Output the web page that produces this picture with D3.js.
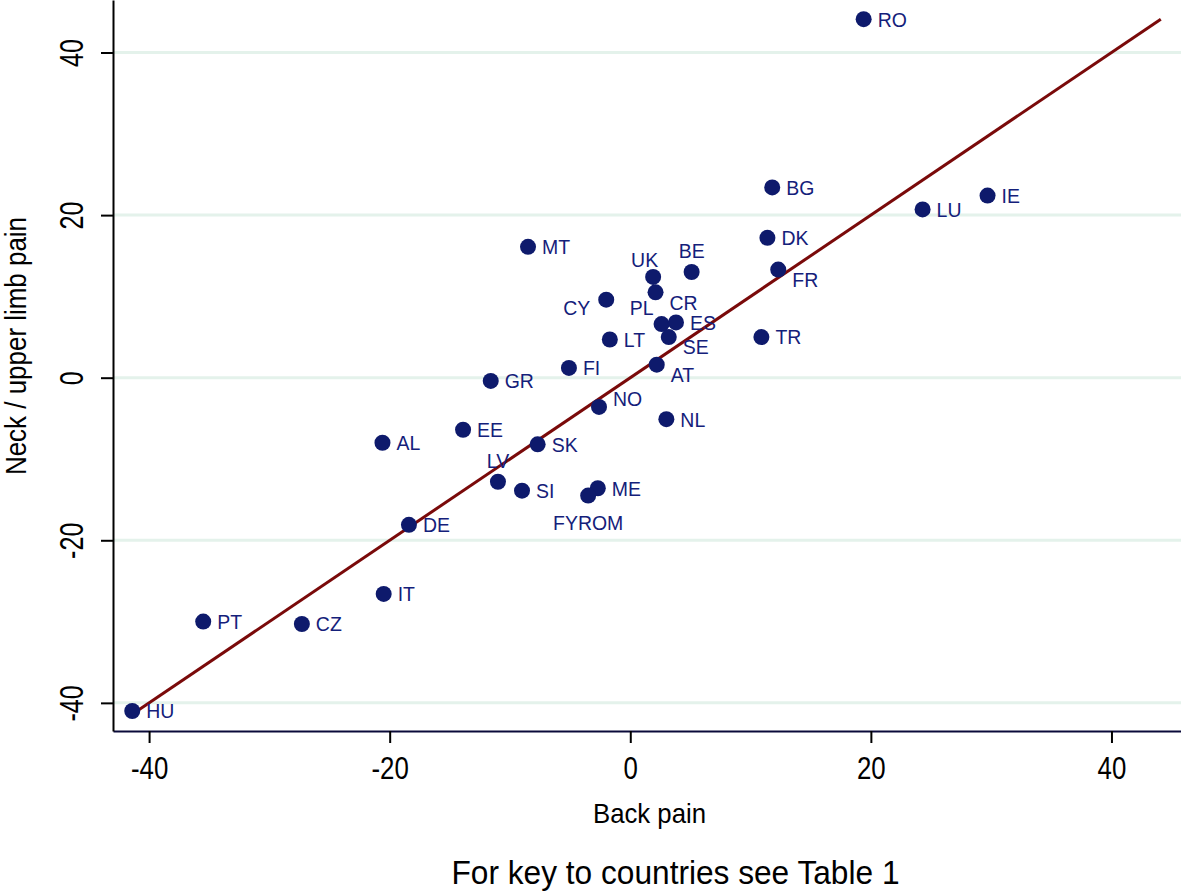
<!DOCTYPE html>
<html>
<head>
<meta charset="utf-8">
<script src="https://cdn.jsdelivr.net/npm/d3@7"></script>
<style>
  body { margin: 0; background: #fff; }
  svg { display: block; font-family: "Liberation Sans", Arial, sans-serif; }
</style>
</head>
<body>
<div id="chart"></div>
<script>
// country codes, back pain (x) and neck / upper limb pain (y)
const countries = ["RO","BG","IE","LU","DK","MT","FR","BE","UK","CR","CY","PL","ES","SE","LT","TR",
  "FI","AT","GR","NO","NL","EE","AL","SK","LV","SI","ME","FYROM","DE","IT","PT","CZ","HU"];
const backPain = [19.4, 11.8, 29.7, 24.3, 11.4, -8.5, 12.3, 5.1, 1.9, 2.1, -2.0, 2.6, 3.8, 3.2, -1.7, 10.9,
  -5.1, 2.2, -11.6, -2.6, 3.0, -13.9, -20.6, -7.7, -11.0, -9.0, -2.7, -3.5, -18.4, -20.5, -35.5, -27.3, -41.4];
const neckPain = [44.1, 23.4, 22.4, 20.7, 17.2, 16.1, 13.3, 13.0, 12.4, 10.5, 9.6, 6.6, 6.8, 5.0, 4.7, 5.0,
  1.2, 1.6, -0.4, -3.6, -5.1, -6.4, -8.0, -8.2, -12.8, -13.9, -13.6, -14.5, -18.1, -26.6, -30.0, -30.3, -41.0];
// marker label clock position for each country
const labelClock = [3,3,3,3,3,3,4,12,11,4,8,10,3,4,3,3,
  3,4,3,2,3,3,3,3,12,3,3,6,3,3,3,3,3];

const xTicks = [-40, -20, 0, 20, 40];
const yTicks = [-40, -20, 0, 20, 40];
// line of equality y = x
const eqLine = [-41.0, 44.1];

const width = 1181, height = 891;
const left = 113, bottom = 731;

const svg = d3.select("#chart").append("svg")
  .attr("width", width).attr("height", height);

const x = d3.scaleLinear().domain([-43.0, 45.78]).range([left, width]);
const y = d3.scaleLinear().domain([-43.46, 46.46]).range([bottom, 0]);

// plain hyphen minus like the original
const fmt = d => String(d);

// gridlines
svg.append("g").selectAll("line")
  .data(yTicks)
  .enter().append("line")
  .attr("x1", left).attr("x2", width)
  .attr("y1", d => y(d)).attr("y2", d => y(d))
  .attr("stroke", "#e4f2eb").attr("stroke-width", 3);

// x axis
const xAxis = svg.append("g")
  .attr("transform", "translate(0," + bottom + ")")
  .call(d3.axisBottom(x).tickValues(xTicks).tickSize(12).tickSizeOuter(0).tickPadding(14).tickFormat(fmt));
xAxis.select(".domain").attr("stroke", "#0a0a3a").attr("stroke-width", 2);
xAxis.selectAll(".tick line").attr("stroke", "#000").attr("stroke-width", 2);
xAxis.selectAll(".tick text")
  .attr("font-size", 31.5).attr("fill", "#000")
  .attr("font-family", "'Liberation Sans', Arial, sans-serif")
  .attr("transform", "scale(0.82,1)");

// y axis
const yAxis = svg.append("g")
  .attr("transform", "translate(" + left + ",0)")
  .call(d3.axisLeft(y).tickValues(yTicks).tickSize(12).tickSizeOuter(0).tickFormat(fmt));
yAxis.select(".domain").attr("stroke", "#000").attr("stroke-width", 2);
yAxis.selectAll(".tick line").attr("stroke", "#000").attr("stroke-width", 2);
yAxis.selectAll(".tick text")
  .attr("x", 0).attr("y", 0).attr("dy", 0)
  .attr("text-anchor", "middle")
  .attr("font-size", 33).attr("fill", "#000")
  .attr("font-family", "'Liberation Sans', Arial, sans-serif")
  .attr("transform", "translate(-30.5,0) rotate(-90) scale(0.76,1)");

// line of equality
svg.append("line")
  .attr("x1", x(eqLine[0])).attr("y1", y(eqLine[0]))
  .attr("x2", x(eqLine[1])).attr("y2", y(eqLine[1]))
  .attr("stroke", "#7a0a0a").attr("stroke-width", 3);

const points = countries.map((c, i) => ({ name: c, bx: backPain[i], ny: neckPain[i], clock: labelClock[i] }));

// label offsets by clock position
const offsets = {
  2: { dx: 14, dy: -8, anchor: "start" },
  3: { dx: 14, dy: 0, anchor: "start" },
  4: { dx: 14, dy: 10, anchor: "start" },
  6: { dx: 0, dy: 27, anchor: "middle" },
  8: { dx: -16, dy: 8, anchor: "end" },
  10: { dx: -8, dy: -16, anchor: "end" },
  11: { dx: 5, dy: -17, anchor: "end" },
  12: { dx: 0, dy: -21, anchor: "middle" }
};

svg.append("g").selectAll("circle")
  .data(points)
  .enter().append("circle")
  .attr("cx", d => x(d.bx)).attr("cy", d => y(d.ny))
  .attr("r", 8)
  .attr("fill", "#0e1a6c");

svg.append("g").selectAll("text")
  .data(points)
  .enter().append("text")
  .attr("transform", d => {
    const o = offsets[d.clock];
    return "translate(" + (x(d.bx) + o.dx) + "," + (y(d.ny) + o.dy) + ") scale(0.95,1)";
  })
  .attr("dy", "0.36em")
  .attr("text-anchor", d => offsets[d.clock].anchor)
  .attr("font-size", 20.5)
  .attr("fill", "#14207a")
  .text(d => d.name);

// axis titles
svg.append("text")
  .attr("transform", "translate(649.5,822.5) scale(0.92,1)")
  .attr("text-anchor", "middle")
  .attr("font-size", 28)
  .text("Back pain");

svg.append("text")
  .attr("transform", "translate(25.5,346) rotate(-90) scale(0.88,1)")
  .attr("text-anchor", "middle")
  .attr("font-size", 29.5)
  .text("Neck / upper limb pain");

svg.append("text")
  .attr("transform", "translate(675.5,884) scale(0.945,1)")
  .attr("text-anchor", "middle")
  .attr("font-size", 33.5)
  .text("For key to countries see Table 1");
</script>
</body>
</html>
